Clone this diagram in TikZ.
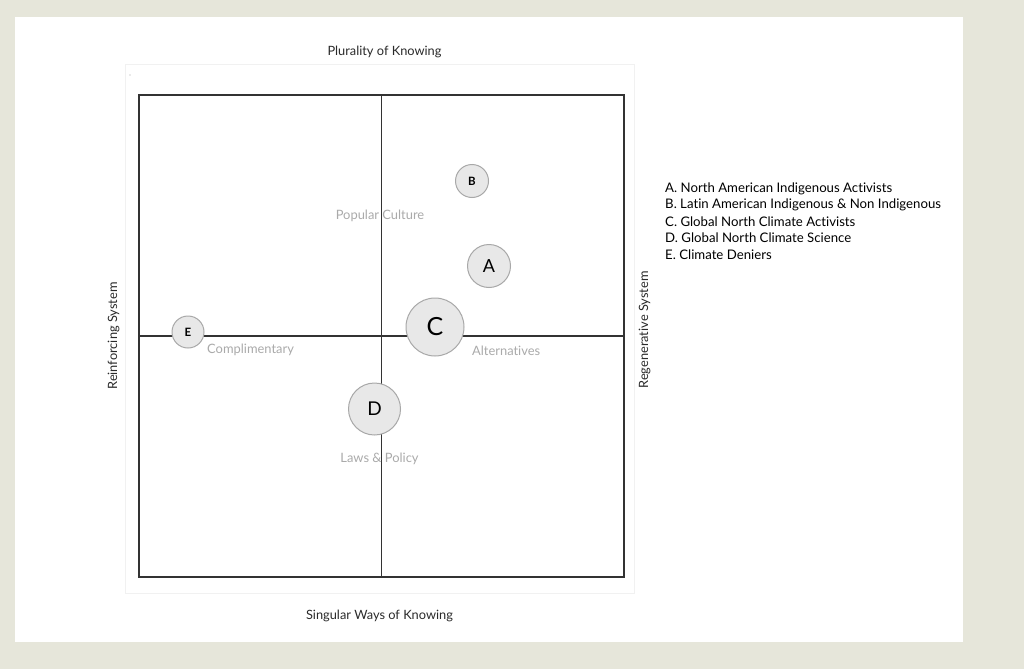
\documentclass[tikz,border=0pt]{standalone}
\usepackage{fontspec}
\setmainfont[Ligatures=NoCommon]{Lato}
\definecolor{bgc}{HTML}{E6E6DA}
\definecolor{faint}{HTML}{F1F1F1}
\definecolor{boxc}{HTML}{333333}
\definecolor{cfill}{HTML}{E8E8E8}
\definecolor{cdraw}{HTML}{A8A8A8}
\definecolor{lblc}{HTML}{AAAAAA}
\definecolor{axc}{HTML}{2A2A2A}
\begin{document}
\begin{tikzpicture}[x=1pt,y=-1pt,
  bubble/.style={circle,draw=cdraw,fill=cfill,line width=1pt,inner sep=0pt,text=black},
  quad/.style={font=\fontsize{12.9}{14}\selectfont,text=lblc,inner sep=0pt},
  axis/.style={font=\fontsize{12.8}{14}\selectfont,text=axc,inner sep=0pt},
  legend/.style={font=\fontsize{13.2}{15}\selectfont,text=black,inner sep=0pt,anchor=west}]
\useasboundingbox (0,0) rectangle (1024,669);
\fill[bgc] (0,0) rectangle (1024,669);
\fill[white] (15,17) rectangle (963,642);
\draw[faint,line width=1pt] (125.5,64.5) rectangle (634.5,593.5);
\fill[gray!70] (130,75) circle (0.7);
% quadrant box
\coordinate (tl) at (139,95);
\coordinate (br) at (624,577);
\coordinate (top) at (381.5,95);
\coordinate (bot) at (381.5,577);
\coordinate (lft) at (139,336);
\coordinate (rgt) at (624,336);
\draw[boxc,line width=1.5pt] (tl) rectangle (br);
\draw[boxc,line width=1.2pt] (top) -- (bot);
\draw[boxc,line width=1.2pt] (lft) -- (rgt);
% quadrant labels
\node[quad] (pc) at (380,216) {Popular Culture};
\node[quad,anchor=west] (cm) at (207,349.5) {Complimentary};
\node[quad,anchor=west] (al) at (472,351) {Alternatives};
\node[quad] (lp) at (379.5,458.5) {Laws \& Policy};
% bubbles
\node[bubble,minimum size=33pt,font=\fontsize{11.5}{12}\selectfont\bfseries] (B) at (472,181) {B};
\node[bubble,minimum size=43pt,font=\fontsize{18}{20}\selectfont] (A) at (489,266) {A};
\node[bubble,minimum size=58pt,font=\fontsize{25}{27}\selectfont] (C) at (435,327) {C};
\node[bubble,minimum size=52pt,font=\fontsize{19}{21}\selectfont] (D) at (374.5,409) {D};
\node[bubble,minimum size=32pt,font=\fontsize{11.5}{12}\selectfont\bfseries] (E) at (188,332) {E};
% axis titles
\node[axis] (ttl) at (384.5,51.5) {Plurality of Knowing};
\node[axis] (btl) at (379.5,615.5) {Singular Ways of Knowing};
\node[axis,rotate=90] (ltl) at (113.5,336) {Reinforcing System};
\node[axis,rotate=90] (rtl) at (644.5,330) {Regenerative System};
% legend
\node[legend] (l1) at (665,188.5) {A. North American Indigenous Activists};
\node[legend] (l2) at (665,205) {B. Latin American Indigenous \& Non Indigenous};
\node[legend] (l3) at (665,221.5) {C. Global North Climate Activists};
\node[legend] (l4) at (665,238) {D. Global North Climate Science};
\node[legend] (l5) at (665,254.5) {E. Climate Deniers};
\end{tikzpicture}
\end{document}
